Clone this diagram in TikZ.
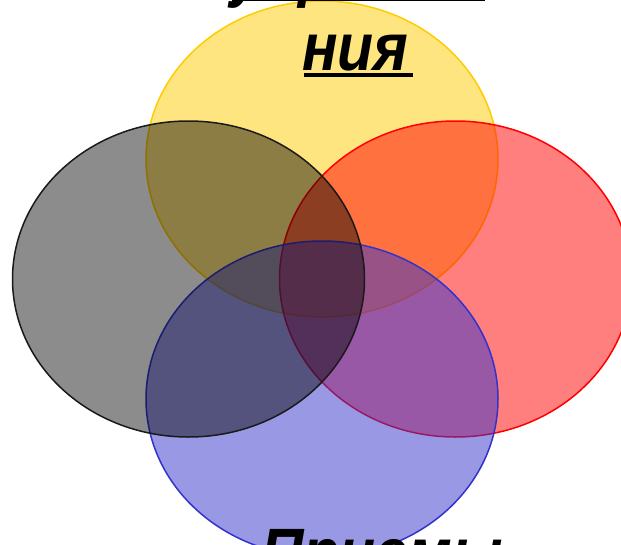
\documentclass[tikz,border=0pt]{standalone}
\usepackage{fontspec}
\setmainfont{Liberation Sans}
\newfontfamily\labelfont[BoldItalicFont={Liberation Sans Bold Italic}]{Liberation Sans}
\definecolor{cyel}{HTML}{FFCC00}
\definecolor{cred}{HTML}{FF0000}
\definecolor{cblue}{HTML}{3333CC}
\definecolor{cgray}{HTML}{1A1A1A}
\begin{document}
\begin{tikzpicture}[x=1pt,y=-1pt,
  venn/.style={line width=1.5pt, fill opacity=0.5},
  lbl/.style={anchor=base west, inner sep=0pt, xscale=0.88, transform shape,
    font=\labelfont\bfseries\itshape\fontsize{67}{76}\selectfont}]
\useasboundingbox (0,0) rectangle (621,544);
\clip (0,0) rectangle (621,544);
\fill[white] (0,0) rectangle (621,544);
\draw[venn, draw=cyel, fill=cyel] (322,159) ellipse [x radius=176, y radius=158];
\draw[venn, draw=cred, fill=cred] (455.5,279) ellipse [x radius=176, y radius=158];
\draw[venn, draw=cblue, fill=cblue] (322,399) ellipse [x radius=176, y radius=158];
\draw[venn, draw=cgray, fill=black, fill opacity=0.45] (188.5,279) ellipse [x radius=176, y radius=158];
\node[lbl] (t1) at (230,-6) {упражне};
\node[lbl] (t2) at (302,70) {ния};
\node[lbl] (t3) at (261,575) {Приемы};
\fill (232,-3) rectangle (485,1);
\fill (304,73) rectangle (413,77);
\end{tikzpicture}
\end{document}
